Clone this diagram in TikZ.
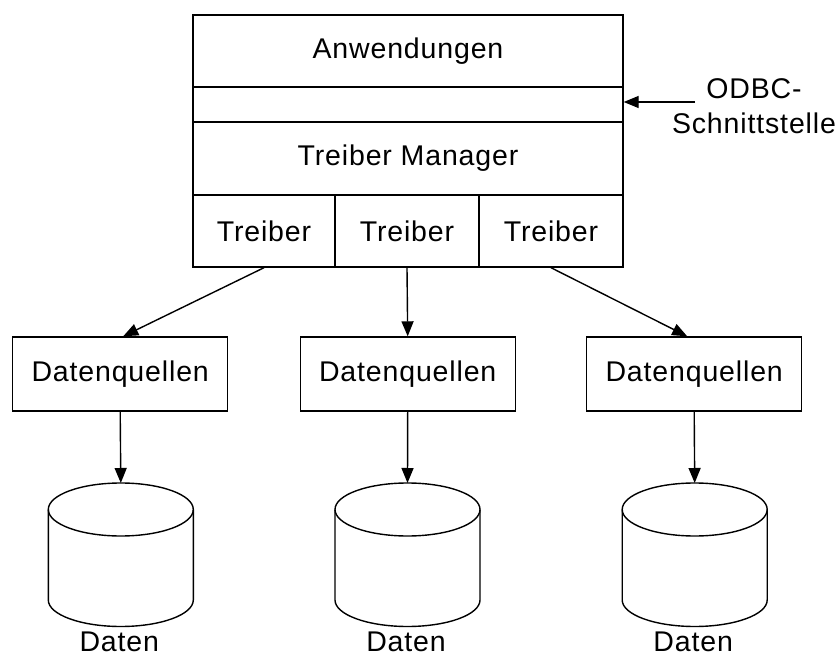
\documentclass[tikz,border=0pt]{standalone}
\usepackage{fontspec}
\setmainfont[LetterSpace=3]{Liberation Sans}
\usetikzlibrary{arrows.meta}

\begin{document}
\begin{tikzpicture}[x=1pt,y=-1pt,
  line width=1.4pt,
  font=\fontsize{28.5}{35}\selectfont,
  layer/.style={draw, rectangle, inner sep=0pt, minimum width=430pt},
  cell/.style={draw, rectangle, inner sep=0pt, minimum height=72pt},
  source/.style={draw, rectangle, inner sep=0pt, minimum width=215pt, minimum height=74pt},
  link/.style={-{Triangle[length=15pt,width=12pt]}},
  caption/.style={inner sep=0pt}
]
\useasboundingbox (0,0) rectangle (839,658);

% protocol stack
\node[layer, minimum height=72pt] (apps) at (408,51) {Anwendungen};
\node[layer, minimum height=35pt] (iface) at (408,104.5) {};
\node[layer, minimum height=73pt] (mgr) at (408,158.5) {Treiber Manager};
\node[cell, minimum width=142pt] (drv1) at (264,231) {Treiber};
\node[cell, minimum width=144pt] (drv2) at (407,231) {Treiber};
\node[cell, minimum width=144pt] (drv3) at (551,231) {Treiber};

% interface label
\node[caption, align=center] (odbc) at (754,106) {ODBC-\\Schnittstelle};
\coordinate (odbcfrom) at (695,102);
\draw[link] (odbcfrom) -- (iface.east |- odbcfrom);

% data sources
\node[source] (dq1) at (120.2,374) {Datenquellen};
\node[source] (dq2) at (407.7,374) {Datenquellen};
\node[source] (dq3) at (694.2,374) {Datenquellen};

\draw[link] (drv1.south) -- ([xshift=3pt]dq1.north);
\draw[link] (drv2.south) -- (dq2.north);
\draw[link] (drv3.south) -- ([xshift=-7pt]dq3.north);

% databases
\foreach \i/\cx in {1/120.8, 2/407.5, 3/694.7}{
  \draw (\cx,509.5) ellipse [x radius=72.5pt, y radius=26.5pt];
  \draw (\cx-72.5,509.5) -- (\cx-72.5,600)
        arc[start angle=180, end angle=360, x radius=72.5pt, y radius=26.5pt]
        -- (\cx+72.5,509.5);
  \coordinate (db\i) at (\cx,483);
  \node[caption] (lbl\i) at (\cx-1.5,642) {Daten};
}

\draw[link] (dq1.south) -- (db1);
\draw[link] (dq2.south) -- (db2);
\draw[link] (dq3.south) -- (db3);
\end{tikzpicture}
\end{document}
